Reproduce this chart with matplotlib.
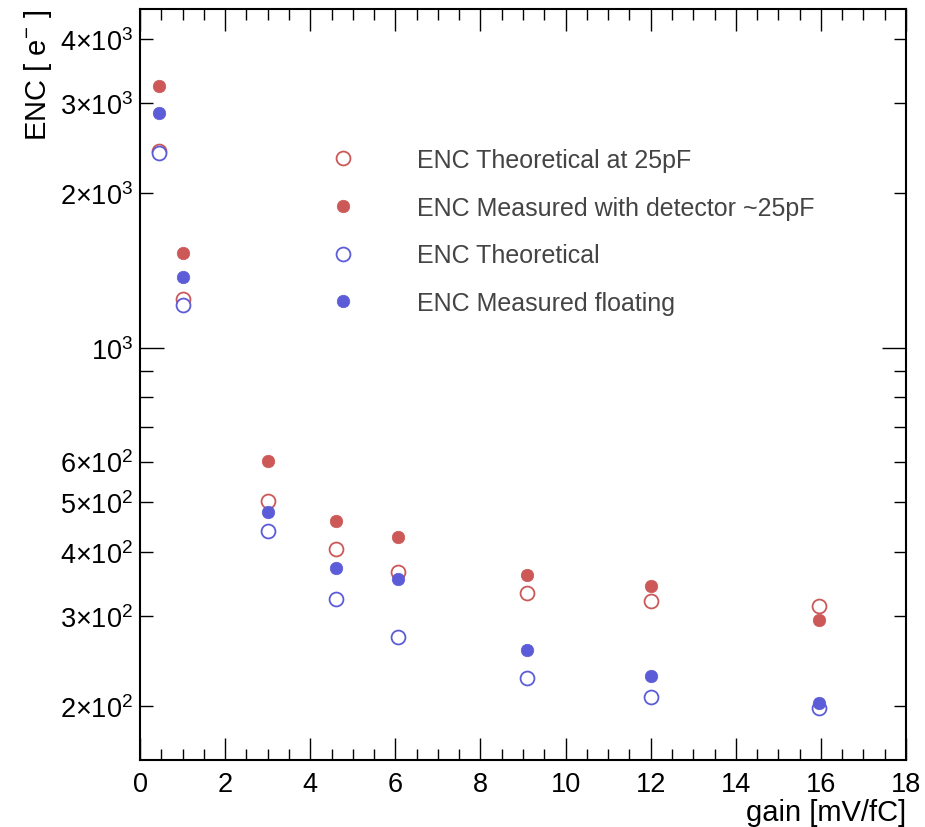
import math
import matplotlib
matplotlib.use("Agg")
from matplotlib import pyplot as plt
from matplotlib import ticker

plt.rcParams['font.family'] = ['Liberation Sans', 'DejaVu Sans']
plt.rcParams['mathtext.fontset'] = 'custom'
plt.rcParams['mathtext.rm'] = 'Liberation Sans'
plt.rcParams['mathtext.it'] = 'Liberation Sans'

## gain settings [mV/fC]
gain = [0.45, 1.0, 3.0, 4.6, 6.05, 9.1, 12.0, 15.95]

## ENC values [e-]
enc_theo_25pf = [2420, 1245, 502, 405, 365, 332, 320, 313]
enc_meas_det = [3240, 1528, 602, 459, 428, 361, 343, 295]
enc_theo = [2400, 1211, 440, 323, 273, 227, 208, 198]
enc_meas_float = [2870, 1374, 478, 372, 354, 257, 229, 203]

labels = ["ENC Theoretical at 25pF",
          "ENC Measured with detector ~25pF",
          "ENC Theoretical",
          "ENC Measured floating"]

RED = '#cd5858'
BLUE = '#5c5cd8'

fig = plt.figure(figsize=(9.25, 8.28), dpi=100)
ax = fig.add_axes([0.1514, 0.0809, 0.8281, 0.907])

ax.plot(gain, enc_theo_25pf, 'o', ms=10, mfc='white', mec=RED, mew=1.3, ls='none', label=labels[0])
ax.plot(gain, enc_meas_det, 'o', ms=9, mfc=RED, mec=RED, mew=0.5, ls='none', label=labels[1])
ax.plot(gain, enc_theo, 'o', ms=10, mfc='white', mec=BLUE, mew=1.3, ls='none', label=labels[2])
ax.plot(gain, enc_meas_float, 'o', ms=9, mfc=BLUE, mec=BLUE, mew=0.5, ls='none', label=labels[3])

ax.set_yscale('log')
ax.set_xlim(0, 18)
ax.set_ylim(157, 4580)

## x axis: majors every 2, minors every 0.5
ax.xaxis.set_major_locator(ticker.MultipleLocator(2))
ax.xaxis.set_minor_locator(ticker.MultipleLocator(0.5))

## y axis: decade majors, labelled minors
ax.yaxis.set_major_locator(ticker.LogLocator(base=10, subs=(1.0,)))
ax.yaxis.set_minor_locator(ticker.LogLocator(base=10, subs=range(2, 10)))

def major_fmt(v, pos):
    exp = int(round(math.log10(v)))
    return r'$10^{%d}$' % exp

def minor_fmt(v, pos):
    exp = int(math.floor(math.log10(v) + 1e-9))
    mant = int(round(v / 10 ** exp))
    if (exp == 2 and mant <= 6) or (exp == 3 and mant <= 4):
        return r'$%d{\times}10^{%d}$' % (mant, exp)
    return ''

ax.yaxis.set_major_formatter(ticker.FuncFormatter(major_fmt))
ax.yaxis.set_minor_formatter(ticker.FuncFormatter(minor_fmt))

ax.tick_params(which='both', direction='in', top=True, right=True, labelsize=19.5, colors='black')
ax.tick_params(axis='x', which='major', length=16, width=1.0, pad=8)
ax.tick_params(axis='x', which='minor', length=8, width=1.0)
ax.tick_params(axis='y', which='major', length=17, width=1.0, pad=5)
ax.tick_params(axis='y', which='minor', length=9, width=1.0, pad=5, labelsize=19.5)

for s in ax.spines.values():
    s.set_linewidth(1.5)

ax.set_xlabel('gain [mV/fC]', fontsize=21, loc='right', labelpad=0.5)
ax.set_ylabel(r'ENC [ e$^{-}$ ]', fontsize=21, loc='top', labelpad=4)

leg = ax.legend(loc='upper left', bbox_to_anchor=(0.249, 0.815), frameon=False,
                fontsize=18, handlelength=1.0, handletextpad=2.45, labelspacing=0.95,
                borderaxespad=0, borderpad=0)
for t in leg.get_texts():
    t.set_color('#444444')

plt.savefig('out.png', dpi=100)
